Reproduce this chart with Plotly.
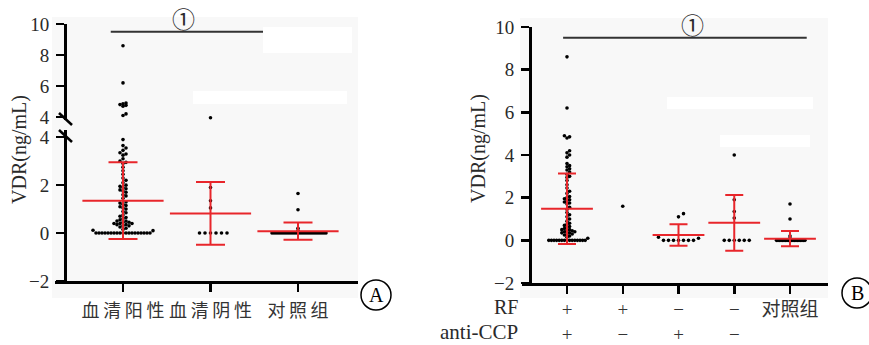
import plotly.graph_objects as go

# ---------------- data ----------------
A_categories = ["血\u2009清\u2009阳\u2009性", "血\u2009清\u2009阴\u2009性", "对\u2009照\u2009组"]
A_seropos = [8.6, 6.2, 4.9, 4.85, 4.8, 4.75, 4.7, 4.2, 4.1,
             3.9, 3.65, 3.55, 3.45, 3.35, 3.3, 3.25, 3.1, 3.0, 2.95, 2.9, 2.75, 2.6,
             2.45, 2.3, 2.2, 2.1, 2.0, 1.95, 1.9, 1.85, 1.8, 1.75, 1.7, 1.6, 1.55,
             1.45, 1.3, 1.25, 1.2, 1.15, 1.1, 1.05, 1.0, 0.9, 0.85, 0.75, 0.7, 0.65,
             0.6, 0.55, 0.5, 0.5, 0.45, 0.45, 0.4, 0.4, 0.4, 0.35, 0.35, 0.3, 0.3,
             0.25, 0.2, 0.15, 0.12, 0.1,
             0, 0, 0, 0, 0, 0, 0, 0, 0, 0, 0, 0, 0, 0, 0, 0, 0, 0, 0]
A_seroneg = [3.95, 1.9, 1.35, 1.05, 0, 0, 0, 0, 0, 0]
A_control = [1.65, 0.97, 0.2, 0.1,
             0, 0, 0, 0, 0, 0, 0, 0, 0, 0, 0, 0, 0, 0, 0, 0, 0, 0, 0, 0, 0, 0,
             0, 0, 0, 0, 0, 0]
A_mean = [1.35, 0.82, 0.08]
A_sd = [1.6, 1.31, 0.36]

B_rf_row = ["+", "+", "\u2212", "\u2212", "对照组"]
B_ccp_row = ["+", "\u2212", "+", "\u2212", ""]
B_pp = [8.6, 6.2, 4.9, 4.85, 4.8, 4.2, 4.1, 4.0, 3.9, 3.6, 3.5, 3.45, 3.35, 3.3,
        3.2, 3.1, 3.0, 2.95, 2.8, 2.6, 2.45, 2.3, 2.2, 2.05, 2.0, 1.95, 1.9, 1.85,
        1.8, 1.75, 1.7, 1.55, 1.45, 1.3, 1.2, 1.1, 1.0, 0.9, 0.8, 0.75, 0.7, 0.65,
        0.6, 0.55, 0.5, 0.5, 0.45, 0.45, 0.4, 0.4, 0.35, 0.35, 0.3, 0.3, 0.25, 0.2,
        0.15, 0.1,
        0, 0, 0, 0, 0, 0, 0, 0, 0, 0, 0, 0, 0, 0, 0]
B_pn = [1.6]
B_np = [1.25, 1.1, 0.15, 0.1, 0, 0, 0, 0, 0, 0, 0]
B_nn = [4.0, 1.9, 1.35, 1.05, 0, 0, 0, 0, 0, 0]
B_control = [1.7, 1.0, 0.2, 0.1,
             0, 0, 0, 0, 0, 0, 0, 0, 0, 0, 0, 0, 0, 0, 0, 0, 0, 0, 0, 0]
B_mean = [1.48, None, 0.25, 0.82, 0.08]
B_sd = [1.65, None, 0.5, 1.31, 0.36]

# ---------------- layout helpers ----------------
W, H = 869, 345
def px(x): return x / W
def py(y): return 1 - y / H

RED = "#e8262b"
FONT = "Liberation Serif, Noto Sans CJK SC, serif"
TXT = "#2a2a2a"

def swarm(vals, center, d, ppx, ppy):
    """deterministic beeswarm layout: returns x positions (data units)"""
    order = sorted(range(len(vals)), key=lambda i: vals[i])
    placed = []
    xs = [center] * len(vals)
    for i in order:
        y = vals[i] * ppy
        k = 0
        while True:
            n = (k + 1) // 2
            off = n * d if k % 2 == 1 else -n * d
            ok = all((off - p[0]) ** 2 + (y - p[1]) ** 2 >= d * d * 0.999 for p in placed)
            if ok:
                break
            k += 1
        placed.append((off, y))
        xs[i] = center + off / ppx
    return xs

fig = go.Figure()

# ---------- Panel A ----------
A_pxx = 87.5   # px per category unit
A_low_ppy = 24.0
A_groups = [A_seropos, A_seroneg, A_control]
A_spacing = [3.0, 5.5, 2.0]
for gi, vals in enumerate(A_groups):
    xs = swarm(vals, gi + 1, A_spacing[gi], A_pxx, A_low_ppy)
    lo = [(x, v) for x, v in zip(xs, vals) if v < 3.95]
    hi = [(x, v) for x, v in zip(xs, vals) if v >= 3.95]
    if lo:
        fig.add_trace(go.Scatter(x=[p[0] for p in lo], y=[p[1] for p in lo], mode="markers",
                                 marker=dict(color="black", size=3.6), xaxis="x", yaxis="y",
                                 showlegend=False, hoverinfo="skip"))
    if hi:
        fig.add_trace(go.Scatter(x=[p[0] for p in hi], y=[p[1] for p in hi], mode="markers",
                                 marker=dict(color="black", size=3.6), xaxis="x", yaxis="y2",
                                 showlegend=False, hoverinfo="skip"))

fig.add_trace(go.Scatter(x=[1, 2, 3], y=A_mean, mode="markers",
                         marker=dict(symbol="line-ew", size=58, line=dict(color=RED, width=2)),
                         error_y=dict(type="data", array=A_sd, color=RED, thickness=2, width=14.5),
                         xaxis="x", yaxis="y", showlegend=False, hoverinfo="skip"))

# ---------- Panel B ----------
B_pxx = 55.75
B_ppy = 21.33
B_groups = [B_pp, B_pn, B_np, B_nn, B_control]
B_spacing = [2.6, 3.0, 5.0, 5.0, 1.5]
for gi, vals in enumerate(B_groups):
    xs = swarm(vals, gi + 1, B_spacing[gi], B_pxx, B_ppy)
    fig.add_trace(go.Scatter(x=xs, y=vals, mode="markers",
                             marker=dict(color="black", size=3.6), xaxis="x3", yaxis="y3",
                             showlegend=False, hoverinfo="skip"))

bx = [i + 1 for i, m in enumerate(B_mean) if m is not None]
bm = [m for m in B_mean if m is not None]
bs = [s for s in B_sd if s is not None]
fig.add_trace(go.Scatter(x=bx, y=bm, mode="markers",
                         marker=dict(symbol="line-ew", size=37, line=dict(color=RED, width=2)),
                         error_y=dict(type="data", array=bs, color=RED, thickness=2, width=9),
                         xaxis="x3", yaxis="y3", showlegend=False, hoverinfo="skip"))

def ax(**kw):
    d = dict(showgrid=False, zeroline=False, showline=True, linecolor="black",
             linewidth=2.5, ticks="outside", ticklen=8, tickwidth=2.5, tickcolor="black",
             automargin=False, tickfont=dict(family=FONT, size=19, color=TXT))
    d.update(kw)
    return d

A_left = 1 - (123 - 55) / A_pxx
A_right = 3 + (358 - 298) / A_pxx
B_left = 1 - (567 - 522) / B_pxx
B_right = 5 + (828 - 790) / B_pxx
B_ticktext = [r + ("<br>" + c if c else "") for r, c in zip(B_rf_row, B_ccp_row)]

fig.update_layout(
    template="none",
    xaxis=ax(domain=[px(55), px(358)], range=[A_left, A_right], anchor="y",
             tickvals=[1, 2, 3], ticktext=A_categories, ticklabelstandoff=4,
             tickfont=dict(family=FONT, size=18, color="#333")),
    yaxis=ax(domain=[py(281), py(130)], range=[-2, 4.3], anchor="free", position=px(65),
             tickvals=[-2, 0, 2, 4], ticklabelstandoff=3),
    yaxis2=ax(domain=[py(120.1), py(24)], range=[3.8, 10], anchor="free", position=px(65),
              tickvals=[4, 6, 8, 10], ticklabelstandoff=3),
    xaxis3=ax(domain=[px(522), px(828)], range=[B_left, B_right], anchor="y3",
              tickvals=[1, 2, 3, 4, 5], ticktext=B_ticktext, ticklabelstandoff=0,
              tickfont=dict(family=FONT, size=19, color="#333")),
    yaxis3=ax(domain=[py(283), py(27)], range=[-2, 10], anchor="free", position=px(530),
              tickvals=[-2, 0, 2, 4, 6, 8, 10], ticklabelstandoff=3),
)

shapes = [
    # gray plot backgrounds
    dict(type="rect", xref="paper", yref="paper", x0=px(52), x1=px(358), y0=py(298), y1=py(17),
         fillcolor="#f8f8f8", line=dict(width=0), layer="below"),
    dict(type="rect", xref="paper", yref="paper", x0=px(520), x1=px(828), y0=py(298), y1=py(18),
         fillcolor="#f8f8f8", line=dict(width=0), layer="below"),
    # masked (white) patches
    dict(type="rect", xref="paper", yref="paper", x0=px(263), x1=px(352), y0=py(53), y1=py(27),
         fillcolor="white", line=dict(width=0)),
    dict(type="rect", xref="paper", yref="paper", x0=px(193), x1=px(347), y0=py(104), y1=py(91),
         fillcolor="white", line=dict(width=0)),
    dict(type="rect", xref="paper", yref="paper", x0=px(667), x1=px(813), y0=py(109), y1=py(97),
         fillcolor="white", line=dict(width=0)),
    dict(type="rect", xref="paper", yref="paper", x0=px(720), x1=px(810), y0=py(147), y1=py(135),
         fillcolor="white", line=dict(width=0)),
    # significance lines
    dict(type="line", xref="x", yref="y2", x0=0.86, x1=2.6, y0=9.5, y1=9.5,
         line=dict(color="#333", width=2)),
    dict(type="line", xref="x3", yref="y3", x0=0.93, x1=5.3, y0=9.5, y1=9.5,
         line=dict(color="#333", width=2)),
    # axis break marks
    dict(type="line", xref="paper", yref="paper", x0=px(59), x1=px(72), y0=py(113), y1=py(125),
         line=dict(color="black", width=2.5)),
    dict(type="line", xref="paper", yref="paper", x0=px(59), x1=px(72), y0=py(130), y1=py(142),
         line=dict(color="black", width=2.5)),
    # panel letters circles
    dict(type="circle", xref="paper", yref="paper", x0=px(361), x1=px(391), y0=py(310), y1=py(280),
         line=dict(color="black", width=1.5)),
    dict(type="circle", xref="paper", yref="paper", x0=px(842), x1=px(872), y0=py(308), y1=py(278),
         line=dict(color="black", width=1.5)),
]

def note(text, x, y, size=19, xanchor="center", color=TXT, angle=0):
    return dict(text=text, x=px(x), y=py(y), xref="paper", yref="paper", xanchor=xanchor,
                yanchor="middle", textangle=angle, showarrow=False,
                font=dict(family=FONT, size=size, color=color))

annotations = [
    note("VDR(ng/mL)", 20, 150, size=20, angle=-90),
    note("VDR(ng/mL)", 478, 148, size=20, angle=-90),
    note("①", 183, 20, size=23),
    note("①", 692, 27, size=23),
    note("RF", 520, 307, size=20, xanchor="right"),
    note("anti-CCP", 520, 332, size=21, xanchor="right"),
    note("A", 376, 295, size=20, color="black"),
    note("B", 857, 293, size=20, color="black"),
]

fig.update_layout(width=W, height=H, autosize=False, margin=dict(l=0, r=0, t=0, b=0, pad=0),
                  paper_bgcolor="white", plot_bgcolor="rgba(0,0,0,0)",
                  shapes=shapes, annotations=annotations, showlegend=False)

fig.write_html("out.html", config={"displayModeBar": False, "staticPlot": True},
               post_script="document.body.style.margin='0';document.body.style.overflow='hidden';")
